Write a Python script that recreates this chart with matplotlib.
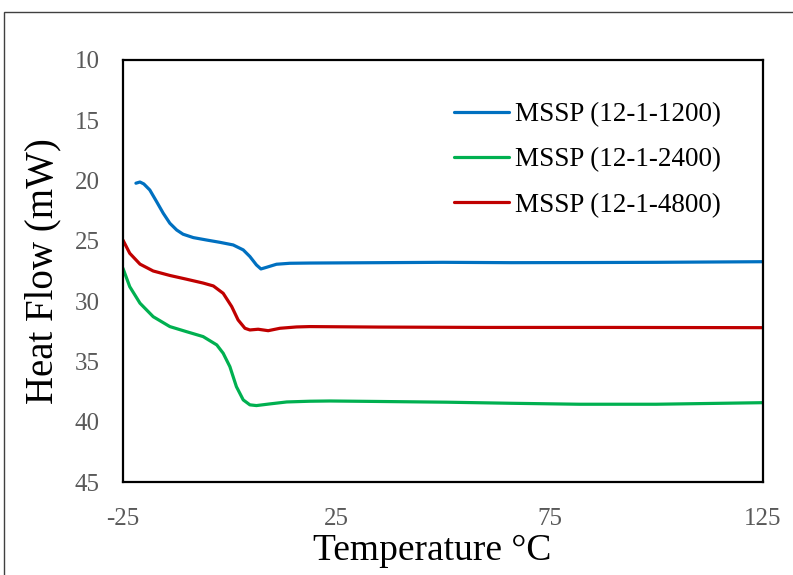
import matplotlib.pyplot as plt
from matplotlib.patches import Rectangle

plt.rcParams['font.family'] = ['Liberation Serif', 'DejaVu Serif']
plt.rcParams['axes.unicode_minus'] = False

# DSC curves (temperature in °C, heat flow in mW)
t_1200 = [-21.95, -21.0, -20.1, -18.7, -17.1, -15.55, -14.0, -12.4, -10.9, -8.5, -5.4, -2.3,
          0.85, 3.2, 4.76, 6.3, 7.35, 8.7, 11.0, 14.1, 18.8, 35, 50, 66, 82, 100, 125]
hf_1200 = [20.22, 20.12, 20.28, 20.78, 21.75, 22.71, 23.54, 24.1, 24.45, 24.73, 24.93, 25.12,
           25.34, 25.75, 26.3, 27.0, 27.33, 27.19, 26.94, 26.86, 26.84, 26.81, 26.78, 26.81,
           26.8, 26.78, 26.73]

t_2400 = [-25.0, -23.4, -21.0, -17.9, -14.0, -10.1, -6.2, -3.0, -1.5, 0.07, 1.6, 3.2, 4.76,
          6.3, 9.5, 13.4, 18.8, 23.5, 35, 50.9, 66, 82, 100, 125]
hf_2400 = [27.27, 28.8, 30.17, 31.29, 32.11, 32.53, 32.94, 33.63, 34.32, 35.43, 37.09, 38.19,
           38.6, 38.66, 38.52, 38.36, 38.3, 38.28, 38.32, 38.38, 38.47, 38.55, 38.55, 38.42]

t_4800 = [-25.0, -23.4, -21.0, -17.9, -14.0, -10.1, -6.2, -3.8, -1.5, 0.5, 2.0, 3.6, 4.76,
          6.7, 9.05, 11.8, 15.7, 18.8, 35, 60, 90, 125]
hf_4800 = [24.93, 26.03, 26.93, 27.5, 27.87, 28.18, 28.5, 28.74, 29.35, 30.45, 31.56, 32.25,
           32.39, 32.33, 32.45, 32.25, 32.14, 32.11, 32.15, 32.18, 32.18, 32.2]

labels = ['MSSP (12-1-1200)', 'MSSP (12-1-2400)', 'MSSP (12-1-4800)']
colors = ['#0070C0', '#00B050', '#C00000']
x_ticks = [-25, 25, 75, 125]
y_ticks = [10, 15, 20, 25, 30, 35, 40, 45]

fig = plt.figure(figsize=(7.93, 5.75), dpi=100)
ax = fig.add_axes([0.155, 0.1617, 0.807, 0.734])

for t, hf, lab, c in zip([t_1200, t_2400, t_4800], [hf_1200, hf_2400, hf_4800], labels, colors):
    ax.plot(t, hf, color=c, lw=2.3, label=lab, solid_joinstyle='round', solid_capstyle='round')

ax.set_xlim(-25, 125)
ax.set_ylim(45, 10)
ax.set_xticks(x_ticks)
ax.set_yticks(y_ticks)
ax.tick_params(length=0, labelsize=18, labelcolor='#595959')
ax.tick_params(axis='x', pad=19)
ax.tick_params(axis='y', pad=16.5)
for s in ax.spines.values():
    s.set_linewidth(1.6)
    s.set_color('black')

ax.set_xlabel('Temperature °C', fontsize=27, labelpad=2)
ax.xaxis.label.set_x(0.484)
ax.set_ylabel('Heat Flow (mW)', fontsize=28, labelpad=10)

leg = ax.legend(loc='upper right', bbox_to_anchor=(0.9725, 0.958), frameon=False,
                fontsize=19.5, handlelength=2.05, handletextpad=0.2, labelspacing=0.75)

# outer chart frame (cut off at right and bottom in the reference)
fig.patches.append(Rectangle((4 / 793, -0.1), 2.0, 1.1 - 12 / 575, transform=fig.transFigure,
                             fill=False, edgecolor='#404040', lw=1.0))

fig.savefig('out.png', dpi=100)
